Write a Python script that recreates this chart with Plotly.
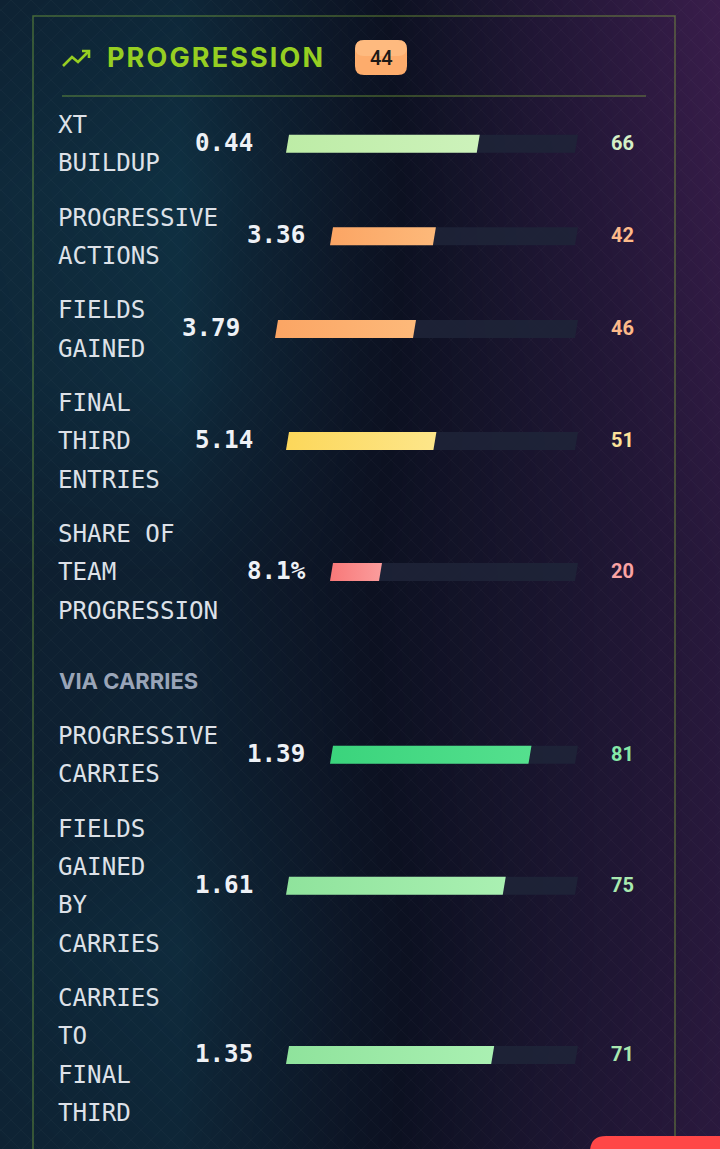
import plotly.graph_objects as go

W, H = 720, 1149

# ---------------- data ----------------
section_title = "PROGRESSION"
section_score = 44
subheader = "VIA CARRIES"
metric_labels = [
    "XT BUILDUP",
    "PROGRESSIVE ACTIONS",
    "FIELDS GAINED",
    "FINAL THIRD ENTRIES",
    "SHARE OF TEAM PROGRESSION",
    "PROGRESSIVE CARRIES",
    "FIELDS GAINED BY CARRIES",
    "CARRIES TO FINAL THIRD",
]
metric_values = ["0.44", "3.36", "3.79", "5.14", "8.1%", "1.39", "1.61", "1.35"]
metric_pcts = [66, 42, 46, 51, 20, 81, 75, 71]
metric_group = ["main", "main", "main", "main", "main", "carries", "carries", "carries"]

# ---------------- style helpers ----------------
LIME = "#96cf22"
BORDER = "rgba(150,205,60,0.40)"
MONO = "DejaVu Sans Mono"
SANS = "Inter"
HAIR = "\u200a"


def tier(p):
    if p >= 80:
        return ("#3ad47c", "#55e08e"), "#86e8a8"
    if p >= 70:
        return ("#8fe39c", "#aaf0b2"), "#a9e9b0"
    if p >= 60:
        return ("#bdeca6", "#cdf2bb"), "#d6efc6"
    if p >= 50:
        return ("#fcd75a", "#fde68a"), "#fde29a"
    if p >= 35:
        return ("#fba564", "#fdb97a"), "#fdba8a"
    return ("#f87878", "#fb9d9d"), "#f9a3a3"


def wrap(text):
    words = text.split()
    width = max(len(w) for w in words)
    lines, cur = [], ""
    for w in words:
        cand = (cur + " " + w).strip()
        if len(cand) <= width:
            cur = cand
        else:
            lines.append(cur)
            cur = w
    lines.append(cur)
    return lines, width


fig = go.Figure()

# ---------------- background ----------------
gx = [0, 180, 360, 540, 720]
gy = [0, 190, 380, 570, 760, 950, 1149]
gz = [
    [0.26, 0.20, 0.46, 0.74, 0.95],
    [0.18, 0.10, 0.44, 0.70, 0.90],
    [0.20, 0.14, 0.46, 0.66, 0.85],
    [0.30, 0.30, 0.49, 0.64, 0.80],
    [0.30, 0.26, 0.48, 0.64, 0.80],
    [0.22, 0.16, 0.45, 0.64, 0.80],
    [0.26, 0.22, 0.46, 0.66, 0.82],
]
fig.add_trace(go.Heatmap(
    x=gx, y=gy, z=gz, zmin=0, zmax=1, zsmooth="best", showscale=False,
    hoverinfo="skip",
    colorscale=[[0, "#10394b"], [0.25, "#0e2334"], [0.5, "#0c1121"],
                [0.75, "#231737"], [1, "#3f1f50"]],
))

# diamond grid pattern
px, py = [], []
step = 20
for c in range(-H, W + H, step):
    px += [c, c + H, None, c, c - H, None]
    py += [0, H, None, 0, H, None]
fig.add_trace(go.Scatter(x=px, y=py, mode="lines", hoverinfo="skip",
                         line=dict(color="rgba(255,255,255,0.028)", width=1)))

shapes = []
annotations = []

# card border and header separator
shapes.append(dict(type="rect", x0=33, x1=675, y0=16, y1=1200,
                   line=dict(color=BORDER, width=1.5)))
shapes.append(dict(type="line", x0=62, x1=646, y0=96, y1=96,
                   line=dict(color=BORDER, width=1.5)))

# header icon (trending up)
fig.add_trace(go.Scatter(x=[63, 72, 78, 89], y=[66, 57, 62, 51], mode="lines",
                         hoverinfo="skip",
                         line=dict(color=LIME, width=2.6)))
fig.add_trace(go.Scatter(x=[82, 89, 89], y=[51, 51, 58], mode="lines",
                         hoverinfo="skip",
                         line=dict(color=LIME, width=2.6)))

annotations.append(dict(x=105, y=57, text="<b>" + HAIR.join(section_title) + "</b>",
                        xanchor="left", yanchor="middle", showarrow=False,
                        font=dict(family=SANS, size=27, color=LIME, weight=800)))


def rounded_rect(x0, y0, x1, y1, r):
    return (f"M{x0+r},{y0} L{x1-r},{y0} Q{x1},{y0} {x1},{y0+r} "
            f"L{x1},{y1-r} Q{x1},{y1} {x1-r},{y1} L{x0+r},{y1} "
            f"Q{x0},{y1} {x0},{y1-r} L{x0},{y0+r} Q{x0},{y0} {x0+r},{y0} Z")


shapes.append(dict(type="path", path=rounded_rect(355, 40, 407, 75, 9),
                   fillcolor="#fdac6c", line=dict(width=0)))
shapes.append(dict(type="path", path=rounded_rect(355, 40, 407, 56, 9),
                   fillcolor="rgba(255,205,150,0.45)", line=dict(width=0)))
annotations.append(dict(x=381, y=58, text=str(section_score), showarrow=False,
                        xanchor="center", yanchor="middle",
                        font=dict(family="Roboto", size=20, color="#1c1917", weight=500)))

# ---------------- rows ----------------
LINE = 38.3
GAP = 54.4
SKEW = 3
BAR_H = 18
TRACK_RIGHT = 575

y_line = 125
prev_group = metric_group[0]
for label, val, pct, grp in zip(metric_labels, metric_values, metric_pcts, metric_group):
    if grp != prev_group:
        y_hdr = y_line - GAP + 71
        annotations.append(dict(x=57, y=y_hdr - 1, text="<b>" + subheader + "</b>",
                                xanchor="left", yanchor="middle", showarrow=False,
                                font=dict(family=SANS, size=22, color="#9aa5b8", weight=600)))
        y_line = y_hdr + GAP
        prev_group = grp
    lines, n = wrap(label)
    for i, ln in enumerate(lines):
        annotations.append(dict(x=56, y=y_line + i * LINE, text=ln, xanchor="left",
                                yanchor="middle", showarrow=False,
                                font=dict(family=MONO, size=24.2, color="#dde1e8")))
    last = y_line + (len(lines) - 1) * LINE
    cy = (y_line + last) / 2 - 1.5
    value_left = 105 + 13 * n
    track_left = 209 + 11 * n
    annotations.append(dict(x=value_left - 3, y=cy, text="<b>" + val + "</b>", xanchor="left",
                            yanchor="middle", showarrow=False,
                            font=dict(family=MONO, size=24.2, color="#eef1f6")))
    yb = cy + 1 + BAR_H / 2
    yt = cy + 1 - BAR_H / 2
    # track
    fig.add_trace(go.Scatter(
        x=[track_left, track_left + SKEW, TRACK_RIGHT + SKEW, TRACK_RIGHT, track_left],
        y=[yb, yt, yt, yb, yb], mode="lines", fill="toself",
        fillcolor="rgba(30,36,56,0.85)", line=dict(width=0), hoverinfo="skip"))
    # fill
    (c0, c1), tcol = tier(pct)
    xr = track_left + (TRACK_RIGHT - track_left) * pct / 100
    fig.add_trace(go.Scatter(
        x=[track_left, track_left + SKEW, xr + SKEW, xr, track_left],
        y=[yb, yt, yt, yb, yb], mode="lines", fill="toself",
        fillgradient=dict(type="horizontal", colorscale=[[0, c0], [1, c1]]),
        line=dict(width=0), hoverinfo="skip"))
    annotations.append(dict(x=636, y=cy, text="<b>" + str(pct) + "</b>", xanchor="right",
                            yanchor="middle", showarrow=False,
                            font=dict(family="Roboto", size=20, color=tcol)))
    y_line = last + GAP

# bottom-right red element
shapes.append(dict(type="path", path=rounded_rect(590, 1136, 760, 1200, 16),
                   fillcolor="#ff4747", line=dict(width=0)))

fig.update_layout(
    width=W, height=H, margin=dict(l=0, r=0, t=0, b=0),
    paper_bgcolor="#0b0f1c", plot_bgcolor="#0b0f1c",
    showlegend=False, shapes=shapes, annotations=annotations,
    xaxis=dict(range=[0, W], visible=False, fixedrange=True),
    yaxis=dict(range=[H, 0], visible=False, fixedrange=True),
    hovermode=False,
)

fig.write_html(
    "out.html",
    config={"displayModeBar": False},
    post_script="document.body.style.margin='0';document.body.style.background='#0b0f1c';",
)
